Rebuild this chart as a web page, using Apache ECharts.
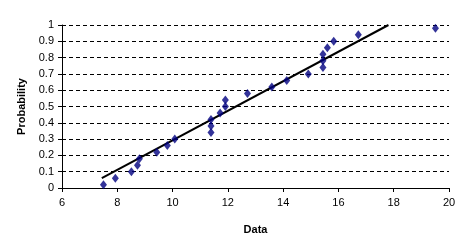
<!DOCTYPE html>
<html>
<head>
<meta charset="utf-8">
<script src="https://cdn.jsdelivr.net/npm/echarts@6/dist/echarts.min.js"></script>
<style>html,body{margin:0;padding:0;background:#fff}#c{width:472px;height:251px}</style>
</head>
<body>
<div id="c"></div>
<script>
var dataX = [7.5, 7.93, 8.51, 8.73, 8.8, 9.43, 9.81, 10.08, 11.39, 11.39, 11.39, 11.72, 11.91, 11.91, 12.71, 13.59, 14.13, 14.91, 15.44, 15.44, 15.44, 15.6, 15.83, 16.72, 19.51];
var probability = [0.02, 0.06, 0.10, 0.14, 0.18, 0.22, 0.26, 0.30, 0.34, 0.38, 0.42, 0.46, 0.50, 0.54, 0.58, 0.62, 0.66, 0.70, 0.74, 0.78, 0.82, 0.86, 0.90, 0.94, 0.98];
var fitX = [7.44, 17.81];
var fitY = [0.06, 1.0];

var pts = dataX.map(function (x, i) { return [x, probability[i]]; });
var fit = fitX.map(function (x, i) { return [x, fitY[i]]; });
var font = 'Liberation Sans, Arial, sans-serif';
var chart = echarts.init(document.getElementById('c'));
chart.setOption({
  animation: false,
  grid: { left: 62, right: 23, top: 25, bottom: 63 },
  xAxis: {
    type: 'value', min: 6, max: 20, interval: 2,
    name: 'Data', nameLocation: 'middle', nameGap: 36,
    nameTextStyle: { fontFamily: font, fontSize: 11, fontWeight: 'bold', color: '#000' },
    axisLine: { show: true, lineStyle: { color: '#000', width: 1 } },
    axisTick: { show: true, length: 4, lineStyle: { color: '#000' } },
    axisLabel: { fontFamily: font, fontSize: 11, color: '#000', margin: 9 },
    splitLine: { show: false }
  },
  yAxis: {
    type: 'value', min: 0, max: 1, interval: 0.1,
    name: 'Probability', nameLocation: 'middle', nameGap: 31,
    nameTextStyle: { fontFamily: font, fontSize: 11, fontWeight: 'bold', color: '#000' },
    axisLine: { show: true, lineStyle: { color: '#000', width: 1 } },
    axisTick: { show: true, length: 4, lineStyle: { color: '#000' } },
    axisLabel: { fontFamily: font, fontSize: 11, color: '#000', margin: 8,
      formatter: function (v) { return String(Math.round(v * 10) / 10); } },
    splitLine: { show: true, lineStyle: { color: '#000', type: [4, 3], width: 1 } }
  },
  series: [
    { type: 'line', data: fit, symbol: 'none', lineStyle: { color: '#000', width: 2 }, z: 2 },
    { type: 'scatter', data: pts, symbol: 'diamond', symbolSize: [7, 9], itemStyle: { color: '#000080' }, z: 3 }
  ]
});
</script>
</body>
</html>
